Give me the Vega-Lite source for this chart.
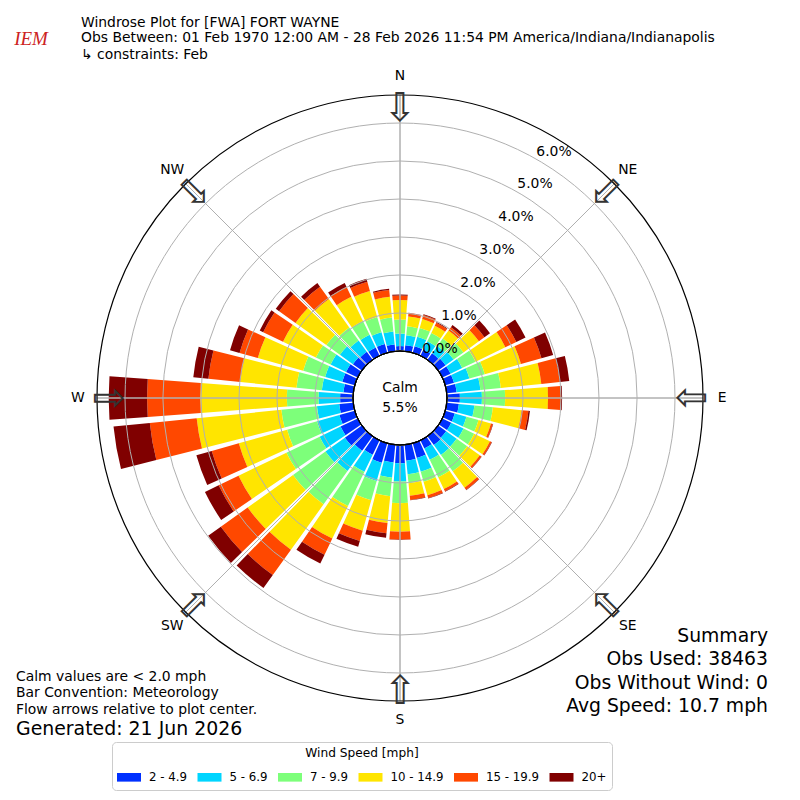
{
"$schema": "https://vega.github.io/schema/vega-lite/v6.json",
"width": 638, "height": 656,
"autosize": {"type": "none"},
"padding": {"left": 81, "top": 70, "right": 81, "bottom": 74},
"background": "white",
"config": {"view": {"stroke": null}, "font": "DejaVu Sans"},
"title": {"text": "Windrose Plot for [FWA] FORT WAYNE", "subtitle": ["Obs Between: 01 Feb 1970 12:00 AM - 28 Feb 2026 11:54 PM America/Indiana/Indianapolis", "↳ constraints: Feb"], "anchor": "start", "frame": "group", "font": "DejaVu Sans", "fontSize": 13.9, "fontWeight": "normal", "color": "#000000", "subtitleFont": "DejaVu Sans", "subtitleFontSize": 13.9, "subtitleColor": "#000000", "lineHeight": 16.7, "subtitleLineHeight": 16.7, "subtitlePadding": 2, "offset": -32},
"layer": [
{
"data": {"values": [
{"dir":0,"speed":"2 - 4.9","min":2,"pct":0.13},{"dir":0,"speed":"5 - 6.9","min":5,"pct":0.33},{"dir":0,"speed":"7 - 9.9","min":7,"pct":0.37},{"dir":0,"speed":"10 - 14.9","min":10,"pct":0.51},{"dir":0,"speed":"15 - 19.9","min":15,"pct":0.12},{"dir":0,"speed":"20+","min":20,"pct":0.03},
{"dir":10,"speed":"2 - 4.9","min":2,"pct":0.16},{"dir":10,"speed":"5 - 6.9","min":5,"pct":0.26},{"dir":10,"speed":"7 - 9.9","min":7,"pct":0.24},{"dir":10,"speed":"10 - 14.9","min":10,"pct":0.26},{"dir":10,"speed":"15 - 19.9","min":15,"pct":0.09},{"dir":10,"speed":"20+","min":20,"pct":0.01},
{"dir":20,"speed":"2 - 4.9","min":2,"pct":0.18},{"dir":20,"speed":"5 - 6.9","min":5,"pct":0.26},{"dir":20,"speed":"7 - 9.9","min":7,"pct":0.24},{"dir":20,"speed":"10 - 14.9","min":10,"pct":0.24},{"dir":20,"speed":"15 - 19.9","min":15,"pct":0.11},{"dir":20,"speed":"20+","min":20,"pct":0.02},
{"dir":30,"speed":"2 - 4.9","min":2,"pct":0.18},{"dir":30,"speed":"5 - 6.9","min":5,"pct":0.24},{"dir":30,"speed":"7 - 9.9","min":7,"pct":0.24},{"dir":30,"speed":"10 - 14.9","min":10,"pct":0.21},{"dir":30,"speed":"15 - 19.9","min":15,"pct":0.09},{"dir":30,"speed":"20+","min":20,"pct":0.02},
{"dir":40,"speed":"2 - 4.9","min":2,"pct":0.21},{"dir":40,"speed":"5 - 6.9","min":5,"pct":0.24},{"dir":40,"speed":"7 - 9.9","min":7,"pct":0.24},{"dir":40,"speed":"10 - 14.9","min":10,"pct":0.26},{"dir":40,"speed":"15 - 19.9","min":15,"pct":0.11},{"dir":40,"speed":"20+","min":20,"pct":0.07},
{"dir":50,"speed":"2 - 4.9","min":2,"pct":0.24},{"dir":50,"speed":"5 - 6.9","min":5,"pct":0.26},{"dir":50,"speed":"7 - 9.9","min":7,"pct":0.32},{"dir":50,"speed":"10 - 14.9","min":10,"pct":0.50},{"dir":50,"speed":"15 - 19.9","min":15,"pct":0.18},{"dir":50,"speed":"20+","min":20,"pct":0.18},
{"dir":60,"speed":"2 - 4.9","min":2,"pct":0.24},{"dir":60,"speed":"5 - 6.9","min":5,"pct":0.34},{"dir":60,"speed":"7 - 9.9","min":7,"pct":0.39},{"dir":60,"speed":"10 - 14.9","min":10,"pct":0.87},{"dir":60,"speed":"15 - 19.9","min":15,"pct":0.32},{"dir":60,"speed":"20+","min":20,"pct":0.27},
{"dir":70,"speed":"2 - 4.9","min":2,"pct":0.24},{"dir":70,"speed":"5 - 6.9","min":5,"pct":0.42},{"dir":70,"speed":"7 - 9.9","min":7,"pct":0.42},{"dir":70,"speed":"10 - 14.9","min":10,"pct":0.99},{"dir":70,"speed":"15 - 19.9","min":15,"pct":0.56},{"dir":70,"speed":"20+","min":20,"pct":0.32},
{"dir":80,"speed":"2 - 4.9","min":2,"pct":0.26},{"dir":80,"speed":"5 - 6.9","min":5,"pct":0.63},{"dir":80,"speed":"7 - 9.9","min":7,"pct":0.54},{"dir":80,"speed":"10 - 14.9","min":10,"pct":1.07},{"dir":80,"speed":"15 - 19.9","min":15,"pct":0.49},{"dir":80,"speed":"20+","min":20,"pct":0.25},
{"dir":90,"speed":"2 - 4.9","min":2,"pct":0.34},{"dir":90,"speed":"5 - 6.9","min":5,"pct":0.58},{"dir":90,"speed":"7 - 9.9","min":7,"pct":0.61},{"dir":90,"speed":"10 - 14.9","min":10,"pct":1.13},{"dir":90,"speed":"15 - 19.9","min":15,"pct":0.34},{"dir":90,"speed":"20+","min":20,"pct":0.03},
{"dir":100,"speed":"2 - 4.9","min":2,"pct":0.32},{"dir":100,"speed":"5 - 6.9","min":5,"pct":0.41},{"dir":100,"speed":"7 - 9.9","min":7,"pct":0.49},{"dir":100,"speed":"10 - 14.9","min":10,"pct":0.76},{"dir":100,"speed":"15 - 19.9","min":15,"pct":0.18},{"dir":100,"speed":"20+","min":20,"pct":0.04},
{"dir":110,"speed":"2 - 4.9","min":2,"pct":0.26},{"dir":110,"speed":"5 - 6.9","min":5,"pct":0.32},{"dir":110,"speed":"7 - 9.9","min":7,"pct":0.33},{"dir":110,"speed":"10 - 14.9","min":10,"pct":0.34},{"dir":110,"speed":"15 - 19.9","min":15,"pct":0.05},{"dir":110,"speed":"20+","min":20,"pct":0.01},
{"dir":120,"speed":"2 - 4.9","min":2,"pct":0.26},{"dir":120,"speed":"5 - 6.9","min":5,"pct":0.36},{"dir":120,"speed":"7 - 9.9","min":7,"pct":0.31},{"dir":120,"speed":"10 - 14.9","min":10,"pct":0.46},{"dir":120,"speed":"15 - 19.9","min":15,"pct":0.05},{"dir":120,"speed":"20+","min":20,"pct":0.01},
{"dir":130,"speed":"2 - 4.9","min":2,"pct":0.26},{"dir":130,"speed":"5 - 6.9","min":5,"pct":0.34},{"dir":130,"speed":"7 - 9.9","min":7,"pct":0.34},{"dir":130,"speed":"10 - 14.9","min":10,"pct":0.41},{"dir":130,"speed":"15 - 19.9","min":15,"pct":0.05},{"dir":130,"speed":"20+","min":20,"pct":0.01},
{"dir":140,"speed":"2 - 4.9","min":2,"pct":0.29},{"dir":140,"speed":"5 - 6.9","min":5,"pct":0.32},{"dir":140,"speed":"7 - 9.9","min":7,"pct":0.53},{"dir":140,"speed":"10 - 14.9","min":10,"pct":0.53},{"dir":140,"speed":"15 - 19.9","min":15,"pct":0.07},{"dir":140,"speed":"20+","min":20,"pct":0.01},
{"dir":150,"speed":"2 - 4.9","min":2,"pct":0.24},{"dir":150,"speed":"5 - 6.9","min":5,"pct":0.33},{"dir":150,"speed":"7 - 9.9","min":7,"pct":0.51},{"dir":150,"speed":"10 - 14.9","min":10,"pct":0.34},{"dir":150,"speed":"15 - 19.9","min":15,"pct":0.07},{"dir":150,"speed":"20+","min":20,"pct":0.01},
{"dir":160,"speed":"2 - 4.9","min":2,"pct":0.40},{"dir":160,"speed":"5 - 6.9","min":5,"pct":0.38},{"dir":160,"speed":"7 - 9.9","min":7,"pct":0.27},{"dir":160,"speed":"10 - 14.9","min":10,"pct":0.37},{"dir":160,"speed":"15 - 19.9","min":15,"pct":0.08},{"dir":160,"speed":"20+","min":20,"pct":0.01},
{"dir":170,"speed":"2 - 4.9","min":2,"pct":0.42},{"dir":170,"speed":"5 - 6.9","min":5,"pct":0.36},{"dir":170,"speed":"7 - 9.9","min":7,"pct":0.24},{"dir":170,"speed":"10 - 14.9","min":10,"pct":0.33},{"dir":170,"speed":"15 - 19.9","min":15,"pct":0.11},{"dir":170,"speed":"20+","min":20,"pct":0.01},
{"dir":180,"speed":"2 - 4.9","min":2,"pct":0.48},{"dir":180,"speed":"5 - 6.9","min":5,"pct":0.48},{"dir":180,"speed":"7 - 9.9","min":7,"pct":0.57},{"dir":180,"speed":"10 - 14.9","min":10,"pct":0.75},{"dir":180,"speed":"15 - 19.9","min":15,"pct":0.21},{"dir":180,"speed":"20+","min":20,"pct":0.01},
{"dir":190,"speed":"2 - 4.9","min":2,"pct":0.47},{"dir":190,"speed":"5 - 6.9","min":5,"pct":0.40},{"dir":190,"speed":"7 - 9.9","min":7,"pct":0.49},{"dir":190,"speed":"10 - 14.9","min":10,"pct":0.71},{"dir":190,"speed":"15 - 19.9","min":15,"pct":0.27},{"dir":190,"speed":"20+","min":20,"pct":0.12},
{"dir":200,"speed":"2 - 4.9","min":2,"pct":0.53},{"dir":200,"speed":"5 - 6.9","min":5,"pct":0.50},{"dir":200,"speed":"7 - 9.9","min":7,"pct":0.53},{"dir":200,"speed":"10 - 14.9","min":10,"pct":0.83},{"dir":200,"speed":"15 - 19.9","min":15,"pct":0.28},{"dir":200,"speed":"20+","min":20,"pct":0.16},
{"dir":210,"speed":"2 - 4.9","min":2,"pct":0.42},{"dir":210,"speed":"5 - 6.9","min":5,"pct":0.50},{"dir":210,"speed":"7 - 9.9","min":7,"pct":1.00},{"dir":210,"speed":"10 - 14.9","min":10,"pct":0.95},{"dir":210,"speed":"15 - 19.9","min":15,"pct":0.47},{"dir":210,"speed":"20+","min":20,"pct":0.26},
{"dir":220,"speed":"2 - 4.9","min":2,"pct":0.47},{"dir":220,"speed":"5 - 6.9","min":5,"pct":0.66},{"dir":220,"speed":"7 - 9.9","min":7,"pct":1.08},{"dir":220,"speed":"10 - 14.9","min":10,"pct":1.47},{"dir":220,"speed":"15 - 19.9","min":15,"pct":0.82},{"dir":220,"speed":"20+","min":20,"pct":0.42},
{"dir":230,"speed":"2 - 4.9","min":2,"pct":0.55},{"dir":230,"speed":"5 - 6.9","min":5,"pct":0.63},{"dir":230,"speed":"7 - 9.9","min":7,"pct":1.05},{"dir":230,"speed":"10 - 14.9","min":10,"pct":1.47},{"dir":230,"speed":"15 - 19.9","min":15,"pct":0.87},{"dir":230,"speed":"20+","min":20,"pct":0.41},
{"dir":240,"speed":"2 - 4.9","min":2,"pct":0.50},{"dir":240,"speed":"5 - 6.9","min":5,"pct":0.61},{"dir":240,"speed":"7 - 9.9","min":7,"pct":0.97},{"dir":240,"speed":"10 - 14.9","min":10,"pct":1.40},{"dir":240,"speed":"15 - 19.9","min":15,"pct":0.58},{"dir":240,"speed":"20+","min":20,"pct":0.40},
{"dir":250,"speed":"2 - 4.9","min":2,"pct":0.42},{"dir":250,"speed":"5 - 6.9","min":5,"pct":0.61},{"dir":250,"speed":"7 - 9.9","min":7,"pct":0.82},{"dir":250,"speed":"10 - 14.9","min":10,"pct":1.32},{"dir":250,"speed":"15 - 19.9","min":15,"pct":0.74},{"dir":250,"speed":"20+","min":20,"pct":0.42},
{"dir":260,"speed":"2 - 4.9","min":2,"pct":0.37},{"dir":260,"speed":"5 - 6.9","min":5,"pct":0.59},{"dir":260,"speed":"7 - 9.9","min":7,"pct":0.94},{"dir":260,"speed":"10 - 14.9","min":10,"pct":2.24},{"dir":260,"speed":"15 - 19.9","min":15,"pct":1.24},{"dir":260,"speed":"20+","min":20,"pct":0.96},
{"dir":270,"speed":"2 - 4.9","min":2,"pct":0.34},{"dir":270,"speed":"5 - 6.9","min":5,"pct":0.57},{"dir":270,"speed":"7 - 9.9","min":7,"pct":0.83},{"dir":270,"speed":"10 - 14.9","min":10,"pct":2.28},{"dir":270,"speed":"15 - 19.9","min":15,"pct":1.40},{"dir":270,"speed":"20+","min":20,"pct":1.01},
{"dir":280,"speed":"2 - 4.9","min":2,"pct":0.26},{"dir":280,"speed":"5 - 6.9","min":5,"pct":0.57},{"dir":280,"speed":"7 - 9.9","min":7,"pct":0.67},{"dir":280,"speed":"10 - 14.9","min":10,"pct":1.49},{"dir":280,"speed":"15 - 19.9","min":15,"pct":0.84},{"dir":280,"speed":"20+","min":20,"pct":0.40},
{"dir":290,"speed":"2 - 4.9","min":2,"pct":0.34},{"dir":290,"speed":"5 - 6.9","min":5,"pct":0.47},{"dir":290,"speed":"7 - 9.9","min":7,"pct":0.60},{"dir":290,"speed":"10 - 14.9","min":10,"pct":1.24},{"dir":290,"speed":"15 - 19.9","min":15,"pct":0.50},{"dir":290,"speed":"20+","min":20,"pct":0.26},
{"dir":300,"speed":"2 - 4.9","min":2,"pct":0.34},{"dir":300,"speed":"5 - 6.9","min":5,"pct":0.45},{"dir":300,"speed":"7 - 9.9","min":7,"pct":0.43},{"dir":300,"speed":"10 - 14.9","min":10,"pct":0.96},{"dir":300,"speed":"15 - 19.9","min":15,"pct":0.58},{"dir":300,"speed":"20+","min":20,"pct":0.10},
{"dir":310,"speed":"2 - 4.9","min":2,"pct":0.29},{"dir":310,"speed":"5 - 6.9","min":5,"pct":0.42},{"dir":310,"speed":"7 - 9.9","min":7,"pct":0.44},{"dir":310,"speed":"10 - 14.9","min":10,"pct":1.00},{"dir":310,"speed":"15 - 19.9","min":15,"pct":0.53},{"dir":310,"speed":"20+","min":20,"pct":0.11},
{"dir":320,"speed":"2 - 4.9","min":2,"pct":0.26},{"dir":320,"speed":"5 - 6.9","min":5,"pct":0.37},{"dir":320,"speed":"7 - 9.9","min":7,"pct":0.42},{"dir":320,"speed":"10 - 14.9","min":10,"pct":0.92},{"dir":320,"speed":"15 - 19.9","min":15,"pct":0.40},{"dir":320,"speed":"20+","min":20,"pct":0.12},
{"dir":330,"speed":"2 - 4.9","min":2,"pct":0.24},{"dir":330,"speed":"5 - 6.9","min":5,"pct":0.37},{"dir":330,"speed":"7 - 9.9","min":7,"pct":0.40},{"dir":330,"speed":"10 - 14.9","min":10,"pct":0.71},{"dir":330,"speed":"15 - 19.9","min":15,"pct":0.29},{"dir":330,"speed":"20+","min":20,"pct":0.11},
{"dir":340,"speed":"2 - 4.9","min":2,"pct":0.24},{"dir":340,"speed":"5 - 6.9","min":5,"pct":0.32},{"dir":340,"speed":"7 - 9.9","min":7,"pct":0.42},{"dir":340,"speed":"10 - 14.9","min":10,"pct":0.71},{"dir":340,"speed":"15 - 19.9","min":15,"pct":0.25},{"dir":340,"speed":"20+","min":20,"pct":0.08},
{"dir":350,"speed":"2 - 4.9","min":2,"pct":0.18},{"dir":350,"speed":"5 - 6.9","min":5,"pct":0.34},{"dir":350,"speed":"7 - 9.9","min":7,"pct":0.37},{"dir":350,"speed":"10 - 14.9","min":10,"pct":0.55},{"dir":350,"speed":"15 - 19.9","min":15,"pct":0.18},{"dir":350,"speed":"20+","min":20,"pct":0.03}
]},
"transform": [{"stack": "pct", "groupby": ["dir"], "sort": [{"field": "min", "order": "ascending"}], "as": ["lo", "hi"]}],
"mark": {"type": "arc", "thetaOffset": -0.075, "theta2Offset": 0.075, "tooltip": false},
"encoding": {
"theta": {"field": "dir", "type": "quantitative", "stack": null, "scale": {"type": "linear", "domain": [0, 360], "range": [0, 6.283185307179586]}},
"theta2": {"field": "dir"},
"radius": {"field": "hi", "type": "quantitative", "stack": null, "scale": {"type": "linear", "domain": [0, 6.737], "range": [47, 303]}},
"radius2": {"field": "lo"},
"color": {"field": "speed", "type": "nominal",
"scale": {"domain": ["2 - 4.9", "5 - 6.9", "7 - 9.9", "10 - 14.9", "15 - 19.9", "20+"], "range": ["#0030ff", "#00d5ff", "#7dff7a", "#ffe500", "#ff4800", "#800000"]},
"legend": {"orient": "none", "legendX": 31, "legendY": 672, "direction": "horizontal", "columns": 6, "title": "Wind Speed [mph]", "titleAnchor": "middle", "titleFont": "DejaVu Sans", "titleFontSize": 12.2, "titleFontWeight": "normal", "titleColor": "#000000", "titlePadding": 6, "labelFont": "DejaVu Sans", "labelFontSize": 11.8, "labelColor": "#000000", "labelOffset": 8, "columnPadding": 9.5, "symbolType": "M-1,-0.36H1V0.36H-1Z", "symbolSize": 576, "symbolStrokeWidth": 0, "symbolOpacity": 1, "strokeColor": "#cccccc", "fillColor": "#ffffff", "padding": 5, "cornerRadius": 4}}
}
},
{
"data": {"values": [{"r":0,"label":"0.0%"},{"r":1,"label":"1.0%"},{"r":2,"label":"2.0%"},{"r":3,"label":"3.0%"},{"r":4,"label":"4.0%"},{"r":5,"label":"5.0%"},{"r":6,"label":"6.0%"}]},
"mark": {"type": "arc", "filled": false, "stroke": "#b0b0b0", "strokeWidth": 1},
"encoding": {
"theta": {"datum": 0, "type": "quantitative", "stack": null, "scale": {"type": "linear", "domain": [0, 360], "range": [0, 6.283185307179586]}},
"theta2": {"datum": 360},
"radius": {"field": "r", "type": "quantitative", "stack": null, "scale": {"type": "linear", "domain": [0, 6.737], "range": [47, 303]}}
}
},
{
"data": {"values": [{"a":0,"n":"N"},{"a":45,"n":"NE"},{"a":90,"n":"E"},{"a":135,"n":"SE"},{"a":180,"n":"S"},{"a":225,"n":"SW"},{"a":270,"n":"W"},{"a":315,"n":"NW"}]},
"mark": {"type": "arc", "filled": false, "stroke": "#b0b0b0", "strokeWidth": 1},
"encoding": {
"theta": {"field": "a", "type": "quantitative", "stack": null, "scale": {"type": "linear", "domain": [0, 360], "range": [0, 6.283185307179586]}},
"theta2": {"field": "a"},
"radius": {"datum": 6.737, "type": "quantitative", "stack": null, "scale": {"type": "linear", "domain": [0, 6.737], "range": [47, 303]}},
"radius2": {"datum": 0}
}
},
{
"data": {"values": [{"outer": 6.737}]},
"mark": {"type": "arc", "filled": false, "stroke": "#000000", "strokeWidth": 1.2},
"encoding": {
"theta": {"datum": 0, "type": "quantitative", "stack": null, "scale": {"type": "linear", "domain": [0, 360], "range": [0, 6.283185307179586]}},
"theta2": {"datum": 360},
"radius": {"field": "outer", "type": "quantitative", "stack": null, "scale": {"type": "linear", "domain": [0, 6.737], "range": [47, 303]}}
}
},
{
"data": {"values": [{"calm": 5.5}]},
"mark": {"type": "arc", "fill": "#ffffff", "stroke": "#000000", "strokeWidth": 1},
"encoding": {
"theta": {"datum": 0, "type": "quantitative", "stack": null, "scale": {"type": "linear", "domain": [0, 360], "range": [0, 6.283185307179586]}},
"theta2": {"datum": 360},
"radius": {"datum": 0, "type": "quantitative", "stack": null, "scale": {"type": "linear", "domain": [0, 6.737], "range": [47, 303]}}
}
},
{
"data": {"values": [{"calm": 5.5}]},
"mark": {"type": "text", "fontSize": 13.9, "color": "#000000", "align": "center", "baseline": "middle", "lineHeight": 20, "dy": -10},
"encoding": {"text": {"value": ["Calm", "5.5%"]}}
},
{
"data": {"values": [{"r":0,"label":"0.0%"},{"r":1,"label":"1.0%"},{"r":2,"label":"2.0%"},{"r":3,"label":"3.0%"},{"r":4,"label":"4.0%"},{"r":5,"label":"5.0%"},{"r":6,"label":"6.0%"}]},
"mark": {"type": "text", "fontSize": 13.9, "color": "#000000", "align": "center", "baseline": "middle", "dx": 16.5, "dy": -8.3},
"encoding": {
"theta": {"datum": 30, "type": "quantitative", "stack": null, "scale": {"type": "linear", "domain": [0, 360], "range": [0, 6.283185307179586]}},
"radius": {"field": "r", "type": "quantitative", "stack": null, "scale": {"type": "linear", "domain": [0, 6.737], "range": [47, 303]}},
"text": {"field": "label"}
}
},
{
"data": {"values": [{"a":0,"n":"N"},{"a":45,"n":"NE"},{"a":90,"n":"E"},{"a":135,"n":"SE"},{"a":180,"n":"S"},{"a":225,"n":"SW"},{"a":270,"n":"W"},{"a":315,"n":"NW"}]},
"mark": {"type": "text", "fontSize": 13.9, "color": "#000000", "align": "center", "baseline": "middle"},
"encoding": {
"theta": {"field": "a", "type": "quantitative", "stack": null, "scale": {"type": "linear", "domain": [0, 360], "range": [0, 6.283185307179586]}},
"radius": {"datum": 7.24, "type": "quantitative", "stack": null, "scale": {"type": "linear", "domain": [0, 6.737], "range": [47, 303]}},
"text": {"field": "n"}
}
},
{
"data": {"values": [{"a":0,"n":"N"},{"a":45,"n":"NE"},{"a":90,"n":"E"},{"a":135,"n":"SE"},{"a":180,"n":"S"},{"a":225,"n":"SW"},{"a":270,"n":"W"},{"a":315,"n":"NW"}]},
"mark": {"type": "text", "fontSize": 40, "color": "#333333", "align": "center", "baseline": "middle"},
"encoding": {
"theta": {"field": "a", "type": "quantitative", "stack": null, "scale": {"type": "linear", "domain": [0, 360], "range": [0, 6.283185307179586]}},
"radius": {"datum": 6.37, "type": "quantitative", "stack": null, "scale": {"type": "linear", "domain": [0, 6.737], "range": [47, 303]}},
"angle": {"field": "a", "type": "quantitative", "scale": null},
"text": {"value": "⇩"}
}
},
{
"data": {"values": [{"note": 1}]},
"mark": {"type": "text", "x": -65, "y": 611, "fontSize": 13.9, "color": "#000000", "align": "left", "baseline": "alphabetic", "lineHeight": 16.3},
"encoding": {"text": {"value": ["Calm values are < 2.0 mph", "Bar Convention: Meteorology", "Flow arrows relative to plot center."]}}
},
{
"data": {"values": [{"note": 1}]},
"mark": {"type": "text", "x": -65, "y": 665, "fontSize": 18.9, "color": "#000000", "align": "left", "baseline": "alphabetic"},
"encoding": {"text": {"value": "Generated: 21 Jun 2026"}}
},
{
"data": {"values": [{"note": 1}]},
"mark": {"type": "text", "x": 687, "y": 572, "fontSize": 18.8, "color": "#000000", "align": "right", "baseline": "alphabetic", "lineHeight": 23.4},
"encoding": {"text": {"value": ["Summary", "Obs Used: 38463", "Obs Without Wind: 0", "Avg Speed: 10.7 mph"]}}
},
{
"data": {"values": [{"note": 1}]},
"mark": {"type": "text", "x": -50, "y": -31, "fontSize": 19, "font": "Liberation Serif", "fontStyle": "italic", "color": "#cc2222", "align": "center", "baseline": "middle"},
"encoding": {"text": {"value": "IEM"}}
}
]
}
